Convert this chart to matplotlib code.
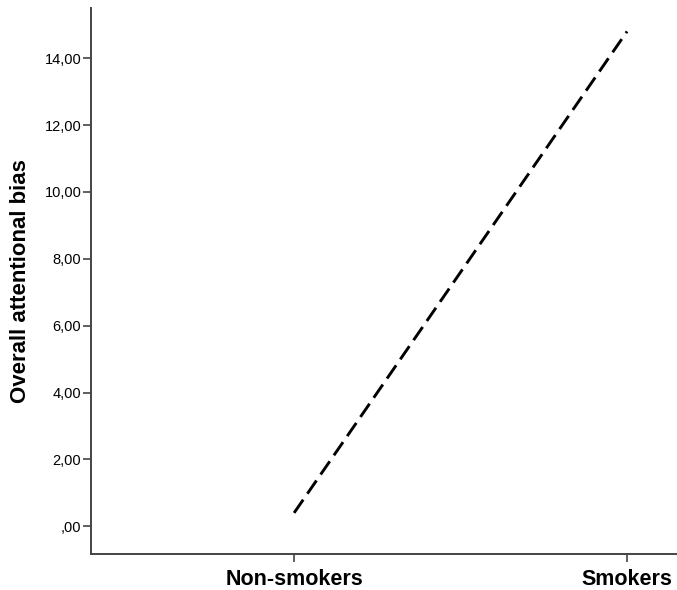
import numpy as np
import matplotlib.pyplot as plt

groups = ['Non-smokers', 'Smokers']
bias = [0.40, 14.8]
yticks = [0, 2, 4, 6, 8, 10, 12, 14]
ytick_labels = [',00', '2,00', '4,00', '6,00', '8,00', '10,00', '12,00', '14,00']

plt.rcParams['font.family'] = ['Liberation Sans', 'DejaVu Sans']

fig = plt.figure(figsize=(6.77, 5.90), dpi=100)
ax = fig.add_axes([0.1344, 0.061, 0.8656, 0.9254])

x = np.arange(len(groups))
ax.plot(x, bias, color='black', linestyle=(0, (5.5, 2.5)), linewidth=2.1)

ax.set_xlim(-0.61, 1.15)
ax.set_ylim(-0.83, 15.5)
ax.set_xticks(x)
ax.set_xticklabels(groups, fontsize=15.5, fontweight='bold')
ax.set_yticks(yticks)
ax.set_yticklabels(ytick_labels, fontsize=10.5)
ax.set_ylabel('Overall attentional bias', fontsize=16, fontweight='bold', labelpad=10)

for side in ['top', 'right']:
    ax.spines[side].set_visible(False)
for side in ['left', 'bottom']:
    ax.spines[side].set_color('#444444')
    ax.spines[side].set_linewidth(1.4)
ax.tick_params(axis='both', direction='out', length=6, width=1.2, color='#444444')
ax.tick_params(axis='y', pad=1)
ax.tick_params(axis='x', pad=5)

plt.savefig('out.png', dpi=100)
